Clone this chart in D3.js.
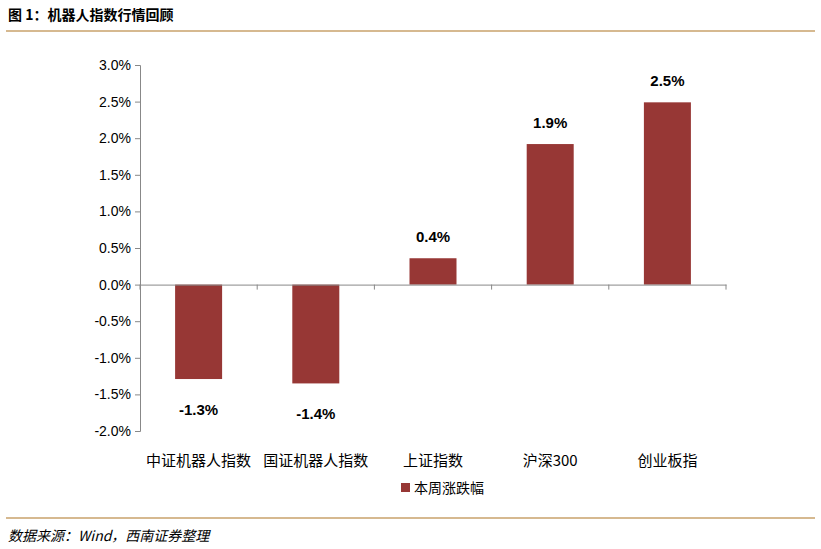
<!DOCTYPE html>
<html><head><meta charset="utf-8">
<script src="https://cdn.jsdelivr.net/npm/d3@7"></script>
<style>body{margin:0;background:#fff;font-family:"Noto Sans CJK SC","Liberation Sans",sans-serif}</style>
</head><body><div id="chart"></div>
<script>
const categories = ["中证机器人指数", "国证机器人指数", "上证指数", "沪深300", "创业板指"];
const values = [-1.29, -1.35, 0.36, 1.92, 2.49];
const labels = ["-1.3%", "-1.4%", "0.4%", "1.9%", "2.5%"];
const yTicks = [3.0, 2.5, 2.0, 1.5, 1.0, 0.5, 0.0, -0.5, -1.0, -1.5, -2.0];
const seriesName = "本周涨跌幅";

const W = 821, H = 549;
const svg = d3.select("#chart").append("svg").attr("width", W).attr("height", H);

svg.append("text").attr("x", 8).attr("y", 20).text("图 1：机器人指数行情回顾")
    .style("font-size", "14px").style("font-weight", "bold");
svg.append("line").attr("x1", 6).attr("x2", 815).attr("y1", 31).attr("y2", 31)
    .attr("stroke", "#c9a26b").attr("stroke-width", 1.5);
svg.append("line").attr("x1", 6).attr("x2", 815).attr("y1", 518).attr("y2", 518)
    .attr("stroke", "#c9a26b").attr("stroke-width", 1.5);
svg.append("text").attr("x", 8).attr("y", 541).text("数据来源：Wind，西南证券整理")
    .style("font-size", "14px").style("font-style", "italic");

const x = d3.scaleBand().domain(categories).range([140, 726]);
const y = d3.scaleLinear().domain([-2, 3]).range([431, 65]);

svg.selectAll(".bar").data(values).enter().append("rect")
    .attr("x", (d, i) => x(categories[i]) + x.bandwidth() / 2 - 23.5)
    .attr("width", 47)
    .attr("y", d => y(Math.max(0, d)))
    .attr("height", d => Math.abs(y(d) - y(0)))
    .attr("fill", "#973735");

svg.selectAll(".lbl").data(values).enter().append("text")
    .attr("x", (d, i) => x(categories[i]) + x.bandwidth() / 2)
    .attr("y", d => d >= 0 ? y(d) - 16 : y(d) + 36)
    .attr("text-anchor", "middle")
    .style("font-size", "15px").style("font-weight", "bold")
    .style("font-family", "Liberation Sans, sans-serif")
    .text((d, i) => labels[i]);

const yAxis = svg.append("g").attr("transform", "translate(140,0)")
    .call(d3.axisLeft(y).tickValues(yTicks).tickFormat(d => d.toFixed(1) + "%").tickSize(5));
yAxis.selectAll("text").style("font-size", "14px").style("font-family", "Liberation Sans, sans-serif").attr("x", -9);
yAxis.selectAll("line,path").attr("stroke", "#888");

const x0 = svg.append("g").attr("transform", `translate(0,${y(0)})`)
    .call(d3.axisBottom(x).tickSize(0).tickFormat(""));
x0.selectAll("path").attr("stroke", "#888");
svg.selectAll(".sep").data(d3.range(categories.length + 1)).enter().append("line")
    .attr("x1", i => 140 + i * x.step()).attr("x2", i => 140 + i * x.step())
    .attr("y1", y(0)).attr("y2", y(0) + 5).attr("stroke", "#888");

svg.selectAll(".cat").data(categories).enter().append("text")
    .attr("x", d => x(d) + x.bandwidth() / 2).attr("y", 466)
    .attr("text-anchor", "middle").style("font-size", "15px").text(d => d);

svg.append("rect").attr("x", 401).attr("y", 483).attr("width", 9).attr("height", 9).attr("fill", "#973735");
svg.append("text").attr("x", 414).attr("y", 493).style("font-size", "14px").text(seriesName);
</script></body></html>
